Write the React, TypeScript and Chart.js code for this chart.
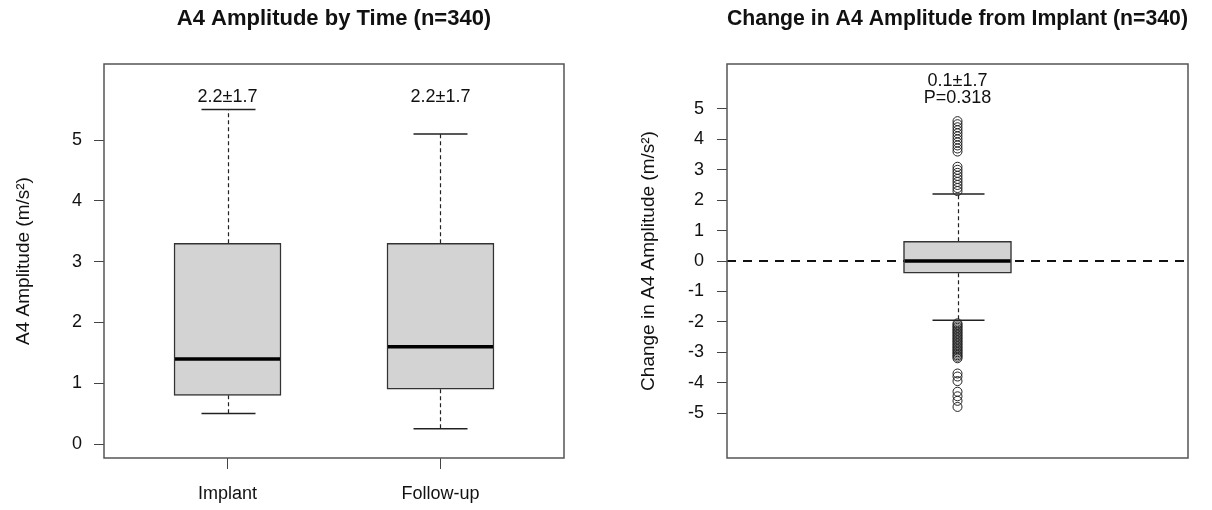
import React, { useEffect, useRef } from "react";
import { Chart, registerables } from "chart.js";

Chart.register(...registerables);
Chart.defaults.font.family = "'Liberation Sans', Arial, Helvetica, sans-serif";
Chart.defaults.color = "#111";

// ---------- Left panel: A4 Amplitude by Time ----------
const timeCategories = ["Implant", "Follow-up"];
const timePositions = [1, 2];
const timeWhiskerLow = [0.5, 0.25];
const timeQ1 = [0.8, 0.9];
const timeMedian = [1.4, 1.6];
const timeQ3 = [3.3, 3.3];
const timeWhiskerHigh = [5.5, 5.1];
const timeLabels = ["2.2±1.7", "2.2±1.7"];
const leftYTicks = [0, 1, 2, 3, 4, 5];

// ---------- Right panel: Change from Implant ----------
const changePositions = [1];
const changeWhiskerLow = [-1.95];
const changeQ1 = [-0.4];
const changeMedian = [0.0];
const changeQ3 = [0.65];
const changeWhiskerHigh = [2.2];
const changeOutliers = [
  4.6, 4.5, 4.4, 4.3, 4.2, 4.1, 4.0, 3.9, 3.8, 3.7, 3.6,
  3.1, 3.0, 2.9, 2.8, 2.7, 2.6, 2.5, 2.4, 2.3,
  -2.05, -2.1, -2.15, -2.2, -2.25, -2.3, -2.35, -2.4, -2.45, -2.5, -2.55, -2.6,
  -2.65, -2.7, -2.75, -2.8, -2.85, -2.9, -2.95, -3.0, -3.05, -3.1, -3.15, -3.2,
  -3.7, -3.8, -3.95,
  -4.3, -4.45, -4.6, -4.8,
];
const changeLabels = ["0.1±1.7", "P=0.318"];
const rightYTicks = [-5, -4, -3, -2, -1, 0, 1, 2, 3, 4, 5];

const boxPlugin = {
  id: "boxExtras",
  beforeDatasetsDraw(chart: any, _args: any, opts: any) {
    const { ctx, chartArea, scales } = chart;
    const x = scales.x;
    const y = scales.y;
    ctx.save();
    if (opts.zeroLine) {
      const py = Math.round(y.getPixelForValue(0));
      ctx.strokeStyle = "#111";
      ctx.lineWidth = 2;
      ctx.setLineDash([9, 7]);
      ctx.beginPath();
      ctx.moveTo(chartArea.left, py);
      ctx.lineTo(chartArea.right, py);
      ctx.stroke();
    }
    opts.positions.forEach((c: number, i: number) => {
      const px = Math.round(x.getPixelForValue(c)) + 0.5;
      ctx.strokeStyle = "#222";
      ctx.lineWidth = 1.2;
      ctx.setLineDash([4, 3]);
      ctx.beginPath();
      ctx.moveTo(px, y.getPixelForValue(opts.q3[i]));
      ctx.lineTo(px, y.getPixelForValue(opts.high[i]));
      ctx.moveTo(px, y.getPixelForValue(opts.q1[i]));
      ctx.lineTo(px, y.getPixelForValue(opts.low[i]));
      ctx.stroke();
      ctx.setLineDash([]);
      ctx.lineWidth = 1.5;
      const half = opts.capWidth / 2;
      ctx.beginPath();
      const hy = y.getPixelForValue(opts.high[i]);
      const ly = y.getPixelForValue(opts.low[i]);
      ctx.moveTo(px - half, hy);
      ctx.lineTo(px + half, hy);
      ctx.moveTo(px - half, ly);
      ctx.lineTo(px + half, ly);
      ctx.stroke();
    });
    ctx.restore();
  },
  afterDatasetsDraw(chart: any, _args: any, opts: any) {
    const { ctx, scales } = chart;
    const x = scales.x;
    const y = scales.y;
    ctx.save();
    opts.positions.forEach((c: number, i: number) => {
      const px = x.getPixelForValue(c);
      const half = opts.boxWidth / 2;
      const my = y.getPixelForValue(opts.median[i]);
      ctx.strokeStyle = "#000";
      ctx.lineWidth = 3.5;
      ctx.beginPath();
      ctx.moveTo(px - half + 1, my);
      ctx.lineTo(px + half - 1, my);
      ctx.stroke();
    });
    ctx.fillStyle = "#111";
    ctx.font = "18px 'Liberation Sans', Arial, Helvetica, sans-serif";
    ctx.textAlign = "center";
    ctx.textBaseline = "middle";
    opts.texts.forEach((t: any) => {
      ctx.fillText(t.text, x.getPixelForValue(t.x), y.getPixelForValue(t.y));
    });
    ctx.restore();
  },
  afterDraw(chart: any) {
    const { ctx, chartArea } = chart;
    ctx.save();
    ctx.strokeStyle = "#555";
    ctx.lineWidth = 1.5;
    ctx.strokeRect(chartArea.left, chartArea.top, chartArea.right - chartArea.left, chartArea.bottom - chartArea.top);
    ctx.restore();
  },
};

const tickFont = { size: 18 };
const axisTitleFont = { size: 19 };

function LeftChart() {
  const ref = useRef<HTMLCanvasElement>(null);
  useEffect(() => {
    const chart = new Chart(ref.current as HTMLCanvasElement, {
      type: "bar",
      data: {
        datasets: [
          {
            type: "bar",
            data: timePositions.map((p, i) => ({ x: p, y: [timeQ1[i], timeQ3[i]] })) as any,
            backgroundColor: "#d3d3d3",
            borderColor: "#333",
            borderWidth: 1.5,
            borderSkipped: false,
            barThickness: 107,
          } as any,
        ],
      },
      options: {
        animation: false,
        responsive: false,
        devicePixelRatio: 1,
        layout: { padding: { left: 0, right: 42, top: 0, bottom: 0 } },
        plugins: {
          legend: { display: false },
          tooltip: { enabled: false },
          title: {
            display: true,
            text: "A4 Amplitude by Time (n=340)",
            font: { size: 22, weight: "bold" },
            color: "#111",
            fullSize: false,
            padding: { top: 5.5, bottom: 32.1 },
          },
          boxExtras: {
            positions: timePositions,
            low: timeWhiskerLow,
            q1: timeQ1,
            median: timeMedian,
            q3: timeQ3,
            high: timeWhiskerHigh,
            boxWidth: 107,
            capWidth: 54,
            texts: timePositions.map((p, i) => ({ x: p, y: 5.71, text: timeLabels[i] })),
          },
        } as any,
        scales: {
          x: {
            type: "linear",
            min: 0.42,
            max: 2.58,
            offset: false,
            afterBuildTicks: (s: any) => {
              s.ticks = timePositions.map((v) => ({ value: v }));
            },
            afterFit: (s: any) => {
              s.height = 52;
            },
            ticks: {
              font: tickFont,
              padding: 14,
              autoSkip: false,
              maxRotation: 0,
              callback: (v: any) => timeCategories[timePositions.indexOf(Number(v))] ?? "",
            },
            grid: { drawOnChartArea: false, offset: false, tickLength: 11, color: "#444" },
            border: { display: false },
          },
          y: {
            type: "linear",
            min: -0.23,
            max: 6.25,
            afterBuildTicks: (s: any) => {
              s.ticks = leftYTicks.map((v) => ({ value: v }));
            },
            afterFit: (s: any) => {
              s.width = 104;
            },
            ticks: { font: tickFont, padding: 12 },
            grid: { drawOnChartArea: false, tickLength: 10, color: "#444" },
            border: { display: false },
            title: {
              display: true,
              text: "A4 Amplitude (m/s²)",
              font: axisTitleFont,
              color: "#111",
              padding: { top: 12, bottom: 0 },
            },
          },
        },
      } as any,
      plugins: [boxPlugin as any],
    });
    return () => chart.destroy();
  }, []);
  return <canvas ref={ref} width={606} height={510} style={{ display: "block" }} />;
}

function RightChart() {
  const ref = useRef<HTMLCanvasElement>(null);
  useEffect(() => {
    const chart = new Chart(ref.current as HTMLCanvasElement, {
      type: "bar",
      data: {
        datasets: [
          {
            type: "bar",
            data: changePositions.map((p, i) => ({ x: p, y: [changeQ1[i], changeQ3[i]] })) as any,
            backgroundColor: "#d3d3d3",
            borderColor: "#333",
            borderWidth: 1.5,
            borderSkipped: false,
            barThickness: 108,
          } as any,
          {
            type: "scatter",
            data: changeOutliers.map((v) => ({ x: changePositions[0], y: v })),
            pointRadius: 4.5,
            pointBorderWidth: 1,
            pointBorderColor: "#222",
            pointBackgroundColor: "rgba(0,0,0,0)",
            showLine: false,
          } as any,
        ],
      },
      options: {
        animation: false,
        responsive: false,
        devicePixelRatio: 1,
        layout: { padding: { left: 0, right: 24, top: 0, bottom: 52 } },
        plugins: {
          legend: { display: false },
          tooltip: { enabled: false },
          title: {
            display: true,
            text: "Change in A4 Amplitude from Implant (n=340)",
            font: { size: 22, weight: "bold" },
            color: "#111",
            fullSize: false,
            padding: { top: 5.5, bottom: 32.1 },
          },
          boxExtras: {
            positions: changePositions,
            low: changeWhiskerLow,
            q1: changeQ1,
            median: changeMedian,
            q3: changeQ3,
            high: changeWhiskerHigh,
            boxWidth: 108,
            capWidth: 52,
            zeroLine: true,
            texts: [
              { x: changePositions[0], y: 5.92, text: changeLabels[0] },
              { x: changePositions[0], y: 5.37, text: changeLabels[1] },
            ],
          },
        } as any,
        scales: {
          x: {
            type: "linear",
            min: 0.46,
            max: 1.54,
            offset: false,
            display: false,
            grid: { offset: false },
          },
          y: {
            type: "linear",
            min: -6.48,
            max: 6.48,
            afterBuildTicks: (s: any) => {
              s.ticks = rightYTicks.map((v) => ({ value: v }));
            },
            afterFit: (s: any) => {
              s.width = 121;
            },
            ticks: { font: tickFont, padding: 13 },
            grid: { drawOnChartArea: false, tickLength: 10, color: "#444" },
            border: { display: false },
            title: {
              display: true,
              text: "Change in A4 Amplitude (m/s²)",
              font: axisTitleFont,
              color: "#111",
              padding: { top: 31, bottom: 0 },
            },
          },
        },
      } as any,
      plugins: [boxPlugin as any],
    });
    return () => chart.destroy();
  }, []);
  return <canvas ref={ref} width={606} height={510} style={{ display: "block" }} />;
}

export default function App() {
  return (
    <div
      style={{
        position: "absolute",
        left: 0,
        top: 0,
        width: 1212,
        height: 510,
        display: "flex",
        background: "#fff",
      }}
    >
      <LeftChart />
      <RightChart />
    </div>
  );
}
